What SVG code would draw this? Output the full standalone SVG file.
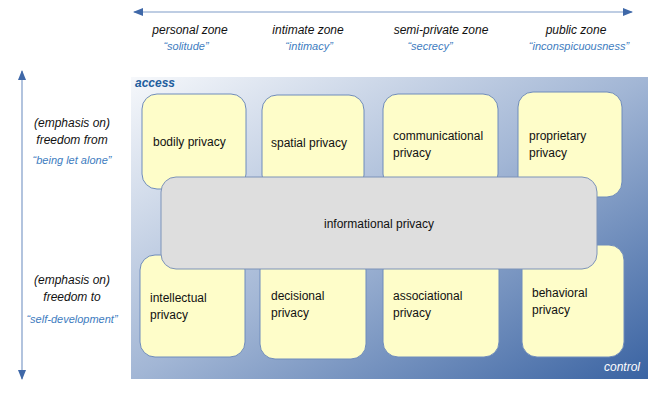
<svg xmlns="http://www.w3.org/2000/svg" width="665" height="410" viewBox="0 0 665 410">
<defs>
<linearGradient id="bg" x1="0" y1="0" x2="1" y2="1">
<stop offset="0" stop-color="#f6f8fb"/>
<stop offset="0.5" stop-color="#a2b6d5"/>
<stop offset="1" stop-color="#3a63a2"/>
</linearGradient>
<marker id="ah" markerWidth="10" markerHeight="8" refX="9" refY="4" orient="auto-start-reverse" markerUnits="userSpaceOnUse">
<path d="M0,0 L10,4 L0,8 Z" fill="#3f68a8"/>
</marker>
<style>
.box{fill:#fefdc9;stroke:#6f8cbc;stroke-width:1}
.info{fill:#dedede;stroke:#7d93b8;stroke-width:1}
.t{font-family:"Liberation Sans",Arial,sans-serif;font-size:12px;fill:#111}
.h{font-family:"Liberation Sans",Arial,sans-serif;font-size:12px;font-style:italic;fill:#111}
.q{font-family:"Liberation Sans",Arial,sans-serif;font-size:11px;font-style:italic;fill:#3d7cc0}
.ax{stroke:#7f9cc8;stroke-width:1.2;fill:none}
</style>
</defs>
<rect x="0" y="0" width="665" height="410" fill="#ffffff"/>
<rect id="panel" x="131" y="77" width="517" height="302" fill="url(#bg)"/>
<text x="135" y="87" font-family="Liberation Sans,Arial,sans-serif" font-size="12" font-style="italic" font-weight="bold" fill="#1f5e9e">access</text>
<text x="640" y="371" text-anchor="end" font-family="Liberation Sans,Arial,sans-serif" font-size="12" font-style="italic" fill="#ffffff">control</text>
<g id="connectors">
<line class="ax" x1="134" y1="12" x2="632" y2="12" marker-start="url(#ah)" marker-end="url(#ah)"/>
<line class="ax" x1="22" y1="71" x2="22" y2="379" marker-start="url(#ah)" marker-end="url(#ah)"/>
</g>
<g id="zones">
<text class="h" x="190" y="34" text-anchor="middle">personal zone</text>
<text class="q" x="186" y="50" text-anchor="middle">“solitude”</text>
<text class="h" x="308" y="34" text-anchor="middle">intimate zone</text>
<text class="q" x="309" y="50" text-anchor="middle">“intimacy”</text>
<text class="h" x="441" y="34" text-anchor="middle">semi-private zone</text>
<text class="q" x="430" y="50" text-anchor="middle">“secrecy”</text>
<text class="h" x="576" y="34" text-anchor="middle">public zone</text>
<text class="q" x="579" y="50" text-anchor="middle">“inconspicuousness”</text>
</g>
<g id="freedom">
<text class="h" x="72" y="127" text-anchor="middle">(emphasis on)</text>
<text class="h" x="72" y="144" text-anchor="middle">freedom from</text>
<text class="q" x="72" y="164" text-anchor="middle">“being let alone”</text>
<text class="h" x="72" y="284" text-anchor="middle">(emphasis on)</text>
<text class="h" x="72" y="301" text-anchor="middle">freedom to</text>
<text class="q" x="72" y="323" text-anchor="middle">“self-development”</text>
</g>
<g id="bodily"><rect class="box" x="142" y="94" width="104" height="95" rx="15"/><text class="t" x="153" y="146">bodily privacy</text></g>
<g id="spatial"><rect class="box" x="262" y="95" width="102" height="95" rx="15"/><text class="t" x="271" y="147">spatial privacy</text></g>
<g id="communicational"><rect class="box" x="383" y="94" width="115" height="95" rx="15"/><text class="t" x="393" y="140">communicational</text><text class="t" x="393" y="157">privacy</text></g>
<g id="proprietary"><rect class="box" x="518" y="92" width="104" height="105" rx="15"/><text class="t" x="529" y="140">proprietary</text><text class="t" x="529" y="157">privacy</text></g>
<g id="intellectual"><rect class="box" x="140" y="255" width="105" height="102" rx="15"/><text class="t" x="150" y="302">intellectual</text><text class="t" x="150" y="319">privacy</text></g>
<g id="decisional"><rect class="box" x="260" y="255" width="106" height="104" rx="15"/><text class="t" x="271" y="300">decisional</text><text class="t" x="271" y="317">privacy</text></g>
<g id="associational"><rect class="box" x="383" y="255" width="116" height="102" rx="15"/><text class="t" x="393" y="300">associational</text><text class="t" x="393" y="317">privacy</text></g>
<g id="behavioral"><rect class="box" x="522" y="245" width="102" height="112" rx="15"/><text class="t" x="532" y="297">behavioral</text><text class="t" x="532" y="314">privacy</text></g>
<g id="informational"><rect class="info" x="161" y="177" width="436" height="92" rx="15"/><text class="t" x="379" y="228" text-anchor="middle">informational privacy</text></g>
</svg>
